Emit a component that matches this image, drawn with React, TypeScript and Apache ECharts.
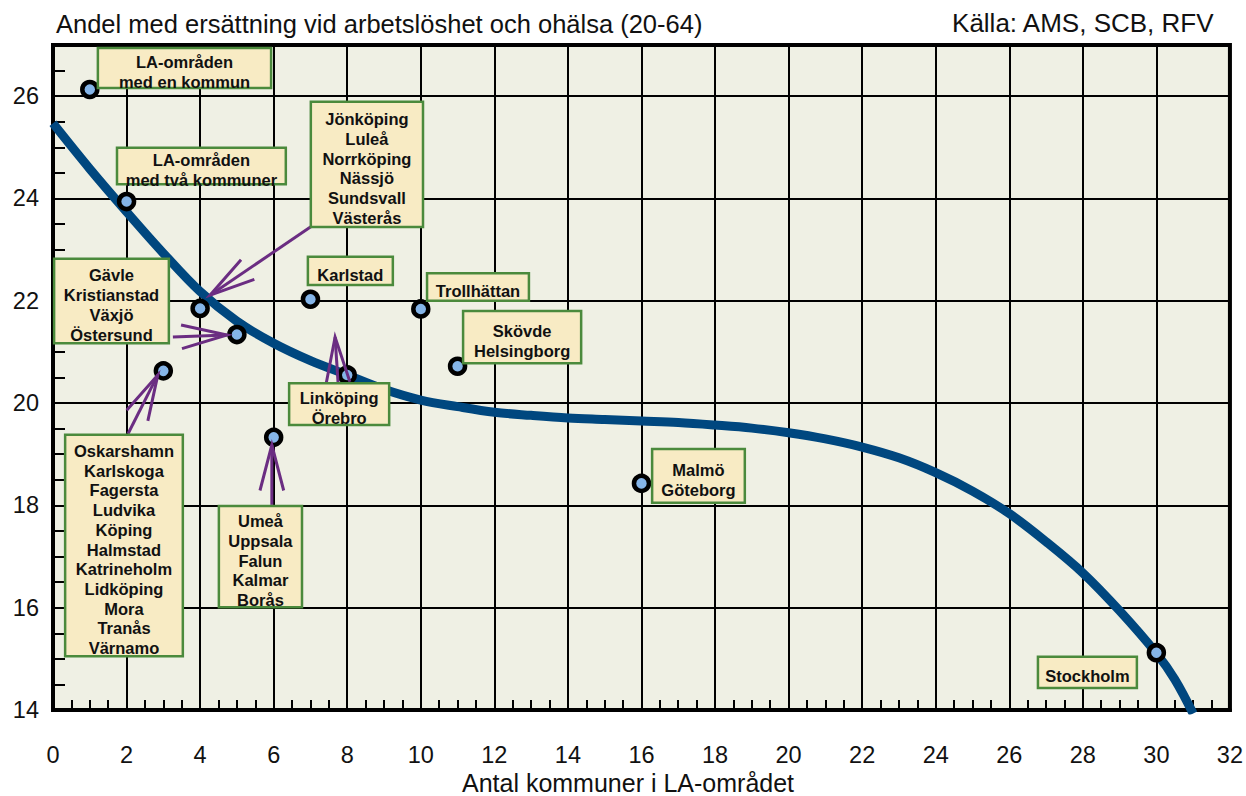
import React, { useEffect, useRef } from 'react';
import * as echarts from 'echarts';

// ---- data ----
const trendX = [0, 1, 2, 3, 4, 5, 6, 7, 8, 9, 10, 11, 12, 13, 14, 15, 16, 17, 18, 19, 20, 21, 22, 23, 24, 25, 26, 27, 28, 29, 30, 30.5, 31];
const trendY = [25.47, 24.58, 23.74, 22.93, 22.18, 21.6, 21.17, 20.83, 20.55, 20.27, 20.06, 19.93, 19.82, 19.76, 19.71, 19.68, 19.65, 19.62, 19.57, 19.51, 19.42, 19.3, 19.14, 18.93, 18.64, 18.28, 17.84, 17.29, 16.68, 15.94, 15.11, 14.6, 13.93];

const pointX = [1, 2, 3, 4, 5, 6, 7, 8, 10, 11, 16, 30];
const pointY = [26.13, 23.94, 20.63, 21.85, 21.34, 19.33, 22.03, 20.55, 21.84, 20.72, 18.43, 15.12];

const xMin = 0, xMax = 32, xStep = 2;
const yMin = 14, yMax = 27, yStep = 2;

const titleText = 'Andel med ersättning vid arbetslöshet och ohälsa (20-64)';
const sourceText = 'Källa: AMS, SCB, RFV';
const xName = 'Antal kommuner i LA-området';

// annotation boxes (data coordinates: x0, yTop, x1, yBottom)
const boxes = [
  { lines: ['LA-områden', 'med en kommun'], box: [1.22, 26.94, 5.93, 26.16] },
  { lines: ['LA-områden', 'med två kommuner'], box: [1.74, 24.99, 6.33, 24.28] },
  { lines: ['Jönköping', 'Luleå', 'Norrköping', 'Nässjö', 'Sundsvall', 'Västerås'], box: [7.01, 25.89, 10.06, 23.44] },
  { lines: ['Karlstad'], box: [6.93, 22.86, 9.24, 22.31] },
  { lines: ['Trollhättan'], box: [10.17, 22.54, 12.94, 22.0] },
  { lines: ['Skövde', 'Helsingborg'], box: [11.15, 21.8, 14.36, 20.78] },
  { lines: ['Gävle', 'Kristianstad', 'Växjö', 'Östersund'], box: [0.03, 22.82, 3.15, 21.17] },
  { lines: ['Linköping', 'Örebro'], box: [6.42, 20.39, 9.14, 19.57] },
  { lines: ['Oskarshamn', 'Karlskoga', 'Fagersta', 'Ludvika', 'Köping', 'Halmstad', 'Katrineholm', 'Lidköping', 'Mora', 'Tranås', 'Värnamo'], box: [0.33, 19.38, 3.53, 15.05] },
  { lines: ['Umeå', 'Uppsala', 'Falun', 'Kalmar', 'Borås'], box: [4.51, 17.99, 6.77, 16.01] },
  { lines: ['Malmö', 'Göteborg'], box: [16.29, 19.1, 18.81, 18.05] },
  { lines: ['Stockholm'], box: [26.78, 15.04, 29.47, 14.43] },
];

// arrows (data coordinates: tailX, tailY, tipX, tipY)
const arrows = [
  [7.04, 23.46, 4.27, 22.11],
  [3.26, 21.29, 4.73, 21.33],
  [2.04, 19.4, 2.85, 20.55],
  [5.95, 18.01, 5.95, 19.18],
  [7.75, 20.41, 7.67, 21.29],
];

const FONT = '"Liberation Sans", Arial, Helvetica, sans-serif';
const ARROW = '#6b2d82';

export default function App() {
  const ref = useRef<HTMLDivElement>(null);
  useEffect(() => {
    if (!ref.current) return;
    const chart = echarts.init(ref.current, undefined, { renderer: 'svg' });
    const minorAxisCommon = {
      type: 'value' as const,
      axisLine: { show: false },
      axisLabel: { show: false },
      splitLine: { show: false },
    };
    chart.setOption({
      animation: false,
      backgroundColor: '#ffffff',
      grid: {
        left: 53, right: 16, top: 45, bottom: 86,
        show: true, backgroundColor: '#eff0e4', borderColor: '#000', borderWidth: 4,
      },
      xAxis: [
        {
          type: 'value', min: xMin, max: xMax, interval: xStep,
          axisLine: { show: true, lineStyle: { color: '#000', width: 4 } },
          axisTick: { show: false },
          axisLabel: { color: '#111', fontSize: 23.5, fontFamily: FONT, margin: 33 },
          splitLine: { show: true, lineStyle: { color: '#000', width: 2 } },
        },
        {
          ...minorAxisCommon, min: xMin, max: xMax, interval: 0.5, position: 'bottom',
          axisTick: { show: true, inside: true, length: 10, lineStyle: { color: '#000', width: 2 } },
        },
      ],
      yAxis: [
        {
          type: 'value', min: yMin, max: yMax, interval: yStep,
          axisLine: { show: true, lineStyle: { color: '#000', width: 4 } },
          axisTick: { show: false },
          axisLabel: {
            color: '#111', fontSize: 23.5, fontFamily: FONT, margin: 14,
            formatter: (v: number) => (v === yMax ? '' : String(v)),
          },
          splitLine: { show: true, lineStyle: { color: '#000', width: 2 } },
        },
        {
          ...minorAxisCommon, min: yMin, max: yMax, interval: 0.5, position: 'left',
          axisTick: { show: true, inside: true, length: 12, lineStyle: { color: '#000', width: 2 } },
        },
      ],
      graphic: [
        { type: 'text', left: 56, top: 11, style: { text: titleText, fill: '#111', font: `25.5px ${FONT}` } },
        { type: 'text', right: 31, top: 10, style: { text: sourceText, fill: '#111', font: `26px ${FONT}` } },
        { type: 'text', x: 628, y: 783, style: { text: xName, fill: '#111', font: `25px ${FONT}`, align: 'center', verticalAlign: 'middle' } },
      ],
      series: [
        {
          type: 'line', data: trendX.map((x, i) => [x, trendY[i]]), smooth: 0.35, showSymbol: false,
          lineStyle: { color: '#00477f', width: 9 }, z: 2, clip: true,
        },
        {
          type: 'scatter', data: pointX.map((x, i) => [x, pointY[i]]), symbol: 'circle', symbolSize: 15,
          itemStyle: { color: '#85b5e8', borderColor: '#000', borderWidth: 4.5, opacity: 1 }, z: 3,
        },
        {
          type: 'custom', z: 4, clip: false, silent: true,
          data: arrows,
          renderItem: (_p: any, api: any) => {
            const a = api.coord([api.value(0), api.value(1)]);
            const b = api.coord([api.value(2), api.value(3)]);
            const ang = Math.atan2(a[1] - b[1], a[0] - b[0]);
            const L = 47, h = 0.255;
            const w1 = [b[0] + L * Math.cos(ang + h), b[1] + L * Math.sin(ang + h)];
            const w2 = [b[0] + L * Math.cos(ang - h), b[1] + L * Math.sin(ang - h)];
            return {
              type: 'group',
              children: [
                { type: 'line', shape: { x1: a[0], y1: a[1], x2: b[0], y2: b[1] }, style: { stroke: ARROW, lineWidth: 3 } },
                { type: 'polyline', shape: { points: [w1, b, w2] }, style: { stroke: ARROW, lineWidth: 3, fill: null, lineJoin: 'miter' } },
              ],
            };
          },
        },
        {
          type: 'custom', z: 5, clip: false, silent: true,
          data: boxes.map((b, i) => [...b.box, i]),
          renderItem: (_p: any, api: any) => {
            const idx = api.value(4);
            const p0 = api.coord([api.value(0), api.value(1)]);
            const p1 = api.coord([api.value(2), api.value(3)]);
            const x = Math.min(p0[0], p1[0]);
            const y = Math.min(p0[1], p1[1]);
            const w = Math.abs(p1[0] - p0[0]);
            const hgt = Math.abs(p1[1] - p0[1]);
            return {
              type: 'group',
              children: [
                { type: 'rect', shape: { x, y, width: w, height: hgt }, style: { fill: '#f8ebc4', stroke: '#4b8a3c', lineWidth: 2.5 } },
                {
                  type: 'text', x: x + w / 2, y: y + hgt / 2 + 4,
                  style: {
                    text: boxes[idx].lines.join('\n'), fill: '#111',
                    font: `bold 16.5px ${FONT}`, align: 'center', verticalAlign: 'middle', lineHeight: 19.7,
                  },
                },
              ],
            };
          },
        },
      ],
    });
    return () => chart.dispose();
  }, []);
  return <div ref={ref} style={{ position: 'absolute', left: 0, top: 0, width: 1246, height: 796 }} />;
}
